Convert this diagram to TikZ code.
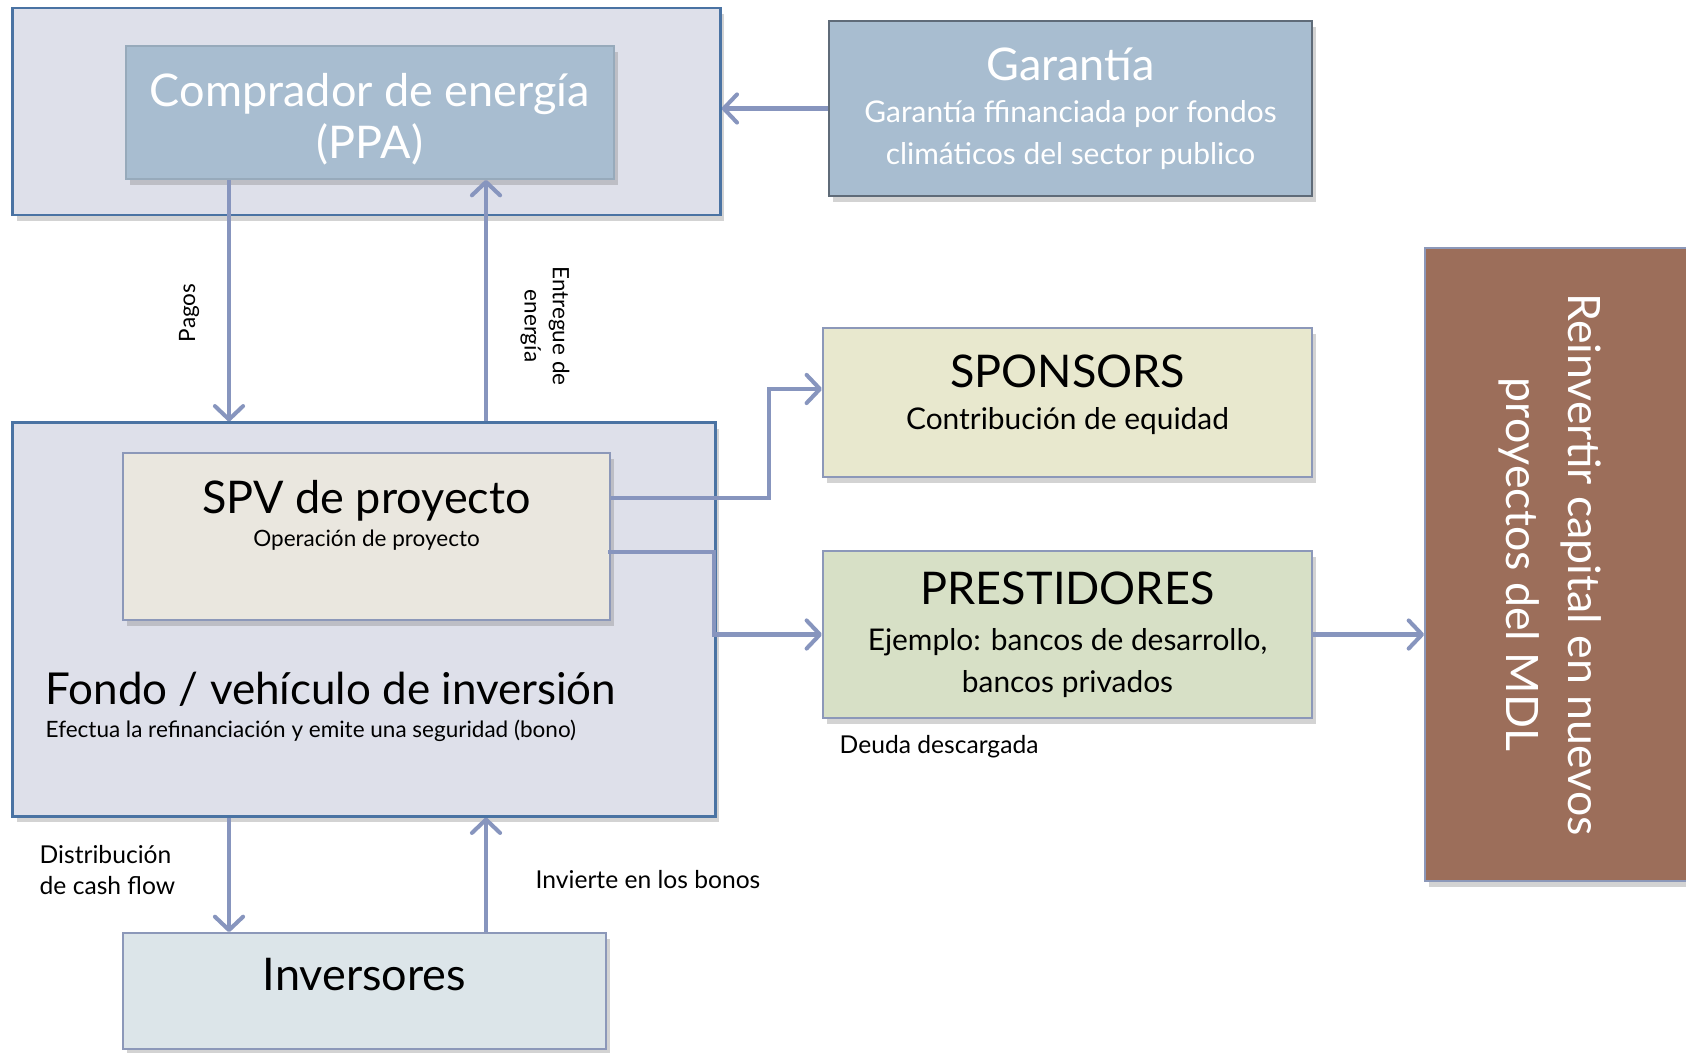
\documentclass[tikz,border=0pt]{standalone}
\usepackage{fontspec}
\setmainfont{Lato}
\usetikzlibrary{positioning,arrows.meta,shadows}
\definecolor{framefill}{HTML}{DEE0EA}
\definecolor{frameline}{HTML}{4A73A3}
\definecolor{ppafill}{HTML}{A8BDD0}
\definecolor{boxline}{HTML}{8C98B9}
\definecolor{garline}{HTML}{5F6B78}
\definecolor{spvfill}{HTML}{EAE7DF}
\definecolor{sponsorfill}{HTML}{E8E8CE}
\definecolor{prestfill}{HTML}{D7E0C6}
\definecolor{invfill}{HTML}{DCE5E9}
\definecolor{reinvfill}{HTML}{9C6E5A}
\definecolor{flowline}{HTML}{8795BE}
\newcommand{\fsbig}{\fontsize{12.8}{14.8}\selectfont}
\newcommand{\fsmid}{\fontsize{8.5}{10.6}\selectfont}
\newcommand{\fssmall}{\fontsize{6.4}{8}\selectfont}
\newcommand{\fslabel}{\fontsize{7}{8.6}\selectfont}
\tikzset{
    x=0.01cm,
    y=-0.01cm,
    frame/.style = {
        draw=frameline,
        fill=framefill,
        shape=rectangle,
        line width=0.8pt,
        drop shadow={shadow xshift=0.4mm, shadow yshift=-0.6mm, opacity=0.35}
    },
    box/.style = {
        draw=boxline,
        shape=rectangle,
        line width=0.5pt,
        align=center,
        inner sep=0pt,
        drop shadow={shadow xshift=0.4mm, shadow yshift=-0.6mm, opacity=0.35}
    },
    flow/.style = {
        draw=flowline,
        line width=1.15pt,
        ->
    },
    tag/.style = {
        inner sep=0pt,
        align=center
    },
    >={Straight Barb[length=3.8pt,width=8pt,line cap=round,line join=round]},
}

\begin{document}
\begin{tikzpicture}
    \useasboundingbox (0,0) rectangle (1686,1052);
    \clip (0,0) rectangle (1686,1052);

    % containers
    \node[frame, minimum width=7.07cm, minimum height=2.07cm] (ppaframe) at (366.5,111.5) {};
    \node[frame, minimum width=7.02cm, minimum height=3.93cm] (fondo) at (364,619.5) {};

    % boxes
    \node[box, fill=ppafill, draw=ppafill!90!black, text=white, font=\fsbig, minimum width=4.88cm, minimum height=1.33cm, text height=9.8mm] (ppa) at (370,112.5) {Comprador de energía\\(PPA)};
    \node[box, fill=ppafill, draw=garline, text=white, minimum width=4.83cm, minimum height=1.75cm] (garantia) at (1070.5,108.5)
        {{\fsbig Garantía}\\{\fsmid Garantía ffinanciada por fondos}\\{\fsmid climáticos del sector publico}};
    \node[box, fill=spvfill, minimum width=4.87cm, minimum height=1.67cm, text depth=4.6mm] (spv) at (366.5,536.5)
        {{\fsbig SPV de proyecto}\\[-2.5pt]{\fssmall Operación de proyecto}};
    \node[box, fill=sponsorfill, minimum width=4.89cm, minimum height=1.49cm, text depth=2mm] (sponsors) at (1067.5,402.5)
        {{\fsbig SPONSORS}\\{\fsmid Contribución de equidad}};
    \node[box, fill=prestfill, minimum width=4.89cm, minimum height=1.67cm] (prest) at (1067.5,634.5)
        {{\fsbig PRESTIDORES}\\[1pt]{\fsmid Ejemplo: bancos de desarrollo,}\\{\fsmid bancos privados}};
    \node[box, fill=invfill, font=\fsbig, minimum width=4.83cm, minimum height=1.16cm, text depth=3.3mm] (inv) at (364.5,991) {Inversores};
    \node[box, fill=reinvfill, minimum width=2.7cm, minimum height=6.33cm] (reinv) at (1560,564.5) {};
    \node[tag, text=white, rotate=-90, font=\fontsize{12.7}{17.7}\selectfont] (reinvtext) at ([xshift=-1mm]reinv.center)
        {Reinvertir capital en nuevos\\proyectos del MDL};

    \node[tag, anchor=west, align=left] (fondotext) at (45,707)
        {{\fontsize{12.5}{14.5}\selectfont Fondo / vehículo de inversión}\\[-2.5pt]{\fssmall Efectua la refinanciación y emite una seguridad (bono)}};

    % columns of the vertical arrows
    \coordinate (left) at (229,0);
    \coordinate (right) at (486,0);

    \path[flow] (garantia.west) -- (garantia.west -| ppaframe.east);
    \path[flow] (ppa.south -| left) -- (fondo.north -| left);
    \path[flow] (fondo.north -| right) -- (ppa.south -| right);
    \path[flow] ([yshift=3.85mm]spv.east) -| ([xshift=-5.3mm,yshift=1.35mm]sponsors.west) -- ([yshift=1.35mm]sponsors.west);
    \path[flow] ([xshift=-0.3mm,yshift=-1.55mm]spv.east) -| ([xshift=-10.8mm]prest.west) -- (prest.west);
    \path[flow] (prest.east) -- (prest.east -| reinv.west);
    \path[flow] (fondo.south -| left) -- (inv.north -| left);
    \path[flow] (inv.north -| right) -- (fondo.south -| right);

    % labels
    \node[tag, rotate=90, font=\fssmall] (pagos) at (189,313) {Pagos};
    \node[tag, rotate=-90, font=\fssmall] (entrega) at (545,326) {Entregue de\\energía};
    \node[tag, anchor=west, align=left, font=\fslabel] (distrib) at (39,870) {Distribución\\de cash flow};
    \node[tag, anchor=west, font=\fslabel] (invierte) at (535,880) {Invierte en los bonos};
    \node[tag, anchor=west, font=\fslabel] (deuda) at (839,747) {Deuda descargada};
\end{tikzpicture}
\end{document}
